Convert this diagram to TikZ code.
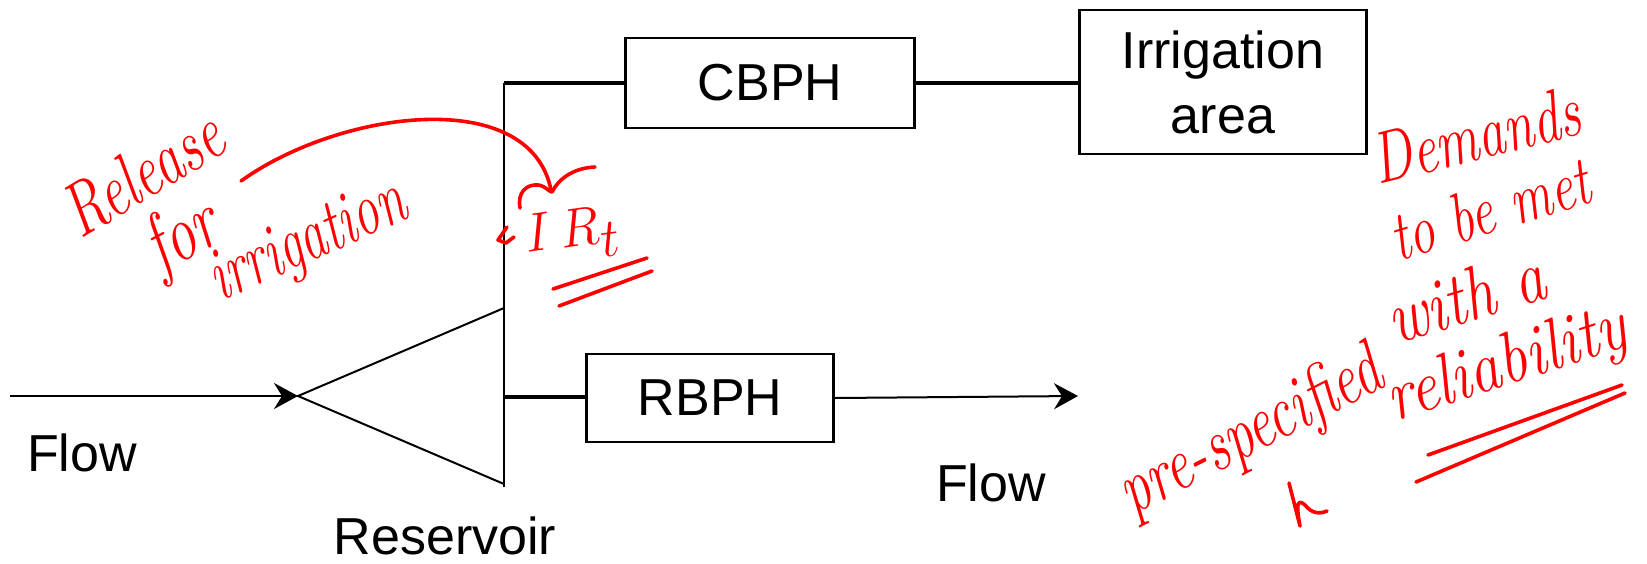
\documentclass[tikz,border=0pt]{standalone}
\usepackage{fontspec}
\usepackage{graphicx}
\newfontfamily\arial{Liberation Sans}
\usetikzlibrary{arrows.meta}
\newcommand{\ink}[4]{\fontsize{#1}{#1}\selectfont\scalebox{#2}[#3]{#4}}
\begin{document}
\begin{tikzpicture}[x=0.5pt,y=-0.5pt,
  lbl/.style={font=\arial\fontsize{26}{32.5}\selectfont, inner sep=0},
  box/.style={draw, line width=1.2pt, lbl, align=center},
  wire/.style={line width=1pt},
  link/.style={line width=1.6pt},
  flow/.style={line width=1pt, -{Stealth[length=12pt,width=13pt,inset=4pt]}},
  pen/.style={draw=red, line width=1.8pt, line cap=round, line join=round},
  hand/.style={text=red, font=\itshape, inner sep=0, anchor=base west}]
\useasboundingbox (0,0) rectangle (1647,563);

% blocks
\node[box, minimum width=144.5pt, minimum height=45pt] (cbph) at (770,83) {CBPH};
\node[box, minimum width=143.5pt, minimum height=72pt] (irr) at (1223,82) {Irrigation\\area};
\node[box, minimum width=123.5pt, minimum height=44pt] (rbph) at (710,398) {RBPH};

% reservoir geometry
\coordinate (in) at (10,396);
\coordinate (apex) at (298,396);
\coordinate (rtop) at (504,308);
\coordinate (rlow) at (504,484);
\coordinate (stemtop) at (504,83);
\coordinate (stembot) at (504,487);
\coordinate (rtap) at (504,397);
\coordinate (out) at (1078,396);

\draw[flow] (in) -- (apex);
\draw[wire] (rtop) -- (apex) -- (rlow);
\draw[wire] (stemtop) -- (stembot);
\draw[link] (stemtop) -- (cbph.west);
\draw[link] (cbph.east) -- (cbph.east -| irr.west);
\draw[link] (rtap) -- (rtap -| rbph.west);
\draw[flow] (rbph.east) -- (out);

% labels
\node[lbl] (flowin) at (82,453) {Flow};
\node[lbl] (flowout) at (991,483) {Flow};
\node[lbl] (res) at (445,536) {Reservoir};

% handwritten notes, left
\node[hand, rotate=31] (rel) at (80,240) {\ink{28}{1}{1.35}{Release}};
\node[hand, rotate=28] (for) at (160,274) {\ink{30}{1}{1.35}{for}};
\node[hand, rotate=24] (irrig) at (220,302) {\ink{28}{0.92}{1.35}{irrigation}};
\node[hand, rotate=8] (irt) at (527,253) {\ink{35}{1.05}{1.1}{$I\,R_t$}};

\coordinate (c0) at (241,181);
\coordinate (c1) at (551,190);
\draw[pen] (c0) .. controls (340,110) and (530,85) .. (c1);
\draw[pen] (520,208) .. controls (517,192) and (527,184) .. (538,185)
           .. controls (546,186) and (549,192) .. (552,192)
           .. controls (558,180) and (572,168) .. (595,167);
\draw[pen] (507,227) -- (498,240) -- (506,243) -- (514,237);
\draw[pen] (553,289) -- (647,258);
\draw[pen] (559,306) -- (652,271);

% handwritten notes, right
\node[hand, rotate=14] (dem) at (1378,185) {\ink{27}{1}{1.35}{Demands}};
\node[hand, rotate=17] (tobe) at (1398,262) {\ink{26}{1}{1.35}{to be met}};
\node[hand, rotate=17] (with) at (1395,345) {\ink{28}{1.1}{1.35}{with a}};
\node[hand, rotate=27] (pre) at (1132,516) {\ink{28}{1}{1.35}{pre-specified}};
\node[hand, rotate=18] (reli) at (1394,422) {\ink{28}{1.12}{1.3}{reliability}};
\draw[pen] (1289,483) -- (1300,526) .. controls (1296,505) and (1297,498) .. (1305,505)
           .. controls (1312,514) and (1320,514) .. (1327,511);
\draw[pen] (1428,455) -- (1622,385);
\draw[pen] (1416,482) -- (1625,393);
\end{tikzpicture}
\end{document}
